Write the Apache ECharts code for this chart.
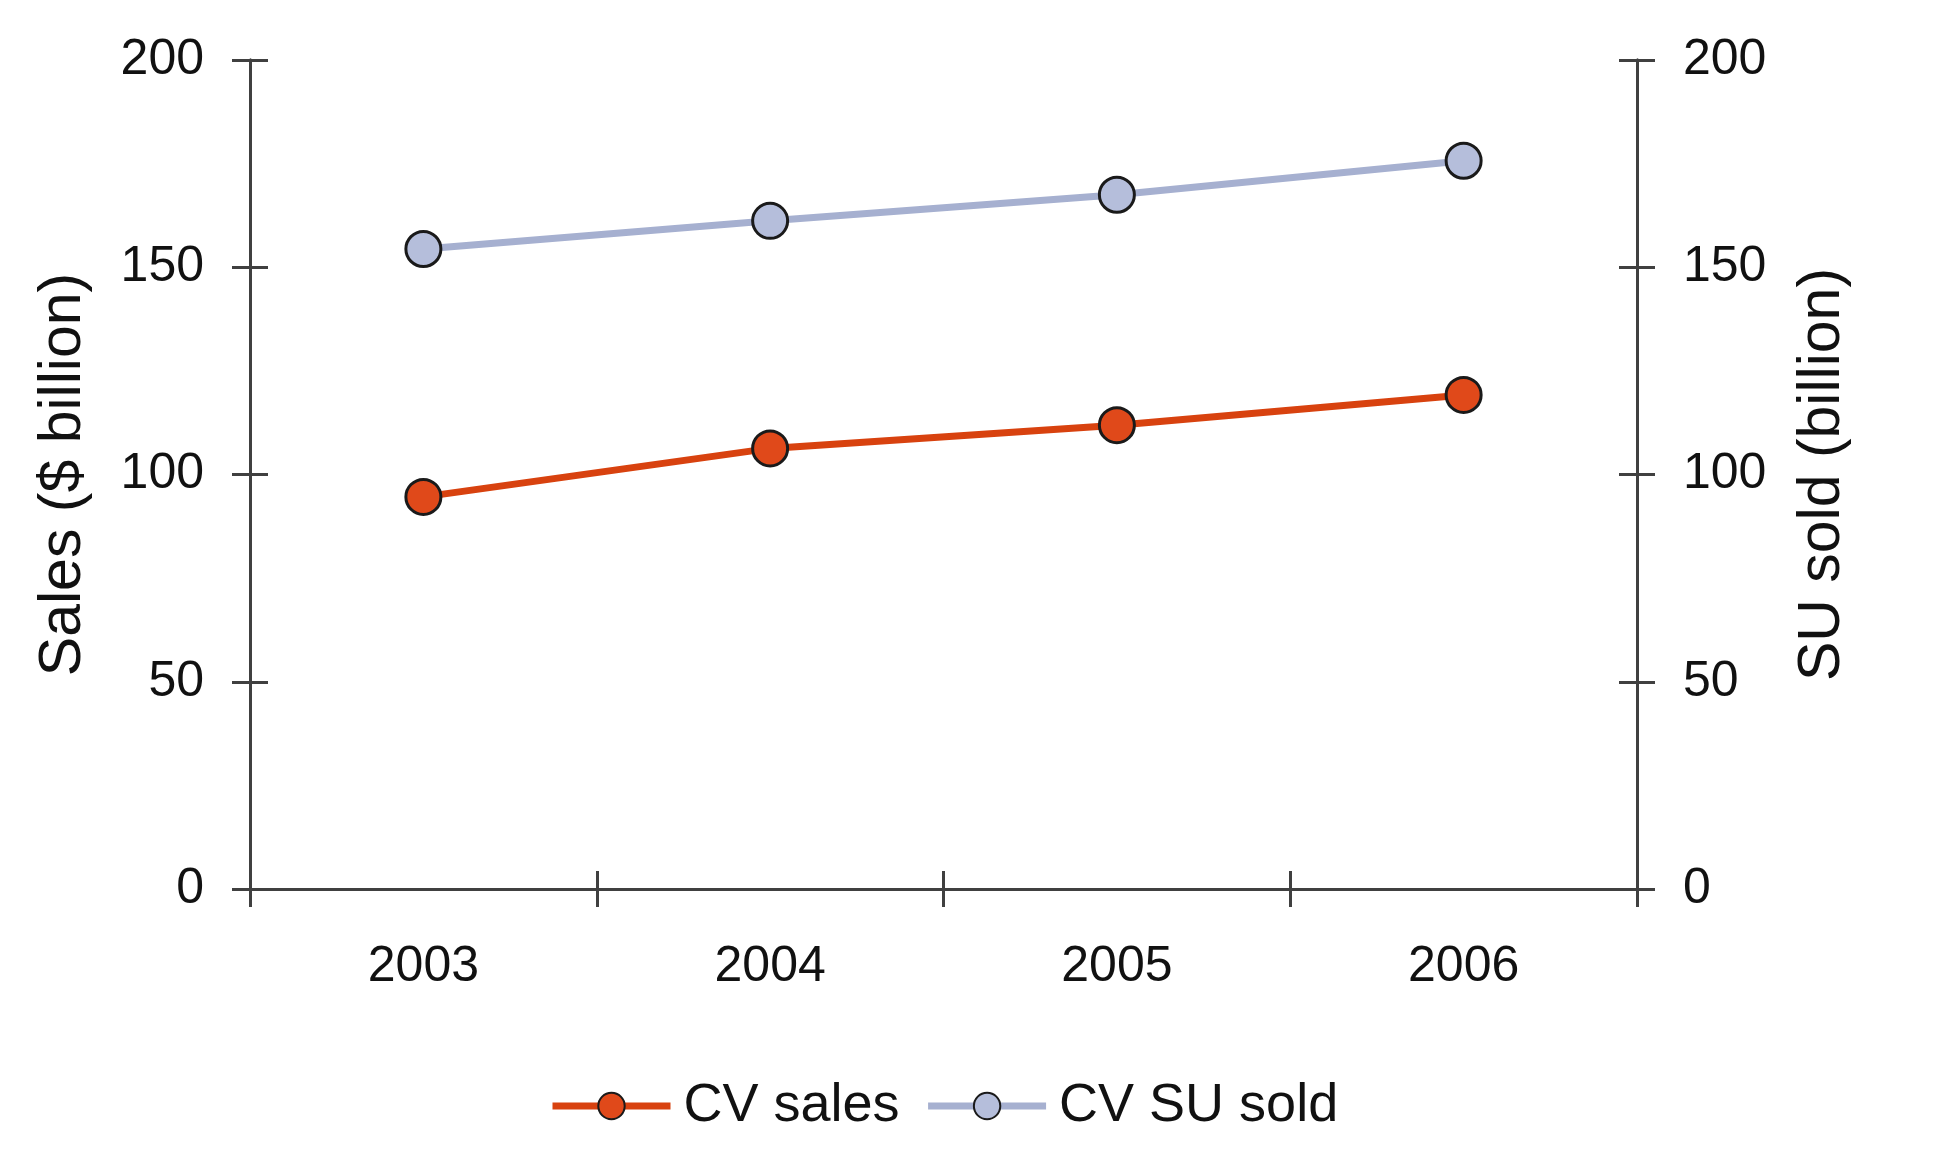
<!DOCTYPE html>
<html>
<head>
<meta charset="utf-8">
<script src="https://cdn.jsdelivr.net/npm/echarts@6/dist/echarts.min.js"></script>
<style>
html,body{margin:0;padding:0;background:#fff;}
#chart{width:1958px;height:1159px;}
</style>
</head>
<body>
<div id="chart"></div>
<script>
var categories = ['2003', '2004', '2005', '2006'];
var cvSales = [94.6, 106.3, 111.9, 119.2];
var cvSuSold = [154.4, 161.2, 167.5, 175.7];
var seriesNames = ['CV sales', 'CV SU sold'];
var leftAxisName = 'Sales ($ billion)';
var rightAxisName = 'SU sold (billion)';
var yMin = 0, yMax = 200, yInterval = 50;

var FONT = 'Liberation Sans, Arial, sans-serif';
var AX = '#404040';
var chart = echarts.init(document.getElementById('chart'), null, {renderer: 'canvas'});

function yAxisBase(pos, ticksInside, showLabel, name) {
  return {
    type: 'value', position: pos, min: yMin, max: yMax, interval: yInterval,
    name: name || '', nameLocation: 'middle', nameGap: pos === 'left' ? 157 : 156,
    nameRotate: 90,
    nameTextStyle: {fontFamily: FONT, fontSize: 59, color: '#111'},
    axisLine: {show: true, lineStyle: {color: AX, width: 3}},
    axisTick: {show: true, inside: ticksInside, length: 18, lineStyle: {color: AX, width: 3}},
    axisLabel: {show: showLabel, margin: 46, fontFamily: FONT, fontSize: 50, color: '#111'},
    splitLine: {show: false}
  };
}

var option = {
  animation: false,
  backgroundColor: '#fff',
  grid: {left: 250, right: 321, top: 60, bottom: 270, containLabel: false},
  legend: {
    left: 544, top: 1074,
    itemWidth: 118, itemHeight: 33, itemGap: 25,
    lineStyle: {width: 7},
    textStyle: {fontFamily: FONT, fontSize: 54, color: '#111', padding: [0, 0, 0, 8]},
    data: seriesNames
  },
  xAxis: [{
    type: 'category', position: 'bottom', data: categories, boundaryGap: true,
    axisLine: {show: true, lineStyle: {color: AX, width: 3}},
    axisTick: {show: true, inside: false, length: 18, alignWithLabel: false, lineStyle: {color: AX, width: 3}},
    axisLabel: {margin: 53, fontFamily: FONT, fontSize: 50, color: '#111'},
    splitLine: {show: false}
  }, {
    type: 'category', position: 'bottom', data: categories, boundaryGap: true,
    axisLine: {show: false},
    axisTick: {show: true, inside: true, length: 18, lineStyle: {color: AX, width: 3}},
    axisLabel: {show: false},
    splitLine: {show: false}
  }],
  yAxis: [
    yAxisBase('left', false, true, leftAxisName),
    yAxisBase('right', false, true, rightAxisName),
    yAxisBase('left', true, false, ''),
    yAxisBase('right', true, false, '')
  ],
  series: [{
    name: seriesNames[0], type: 'line', xAxisIndex: 0, yAxisIndex: 0,
    data: cvSales,
    symbol: 'circle', symbolSize: 35,
    lineStyle: {color: '#D8420F', width: 7},
    itemStyle: {color: '#E0491A', borderColor: '#1a1a1a', borderWidth: 3},
    z: 3
  }, {
    name: seriesNames[1], type: 'line', xAxisIndex: 0, yAxisIndex: 1,
    data: cvSuSold,
    symbol: 'circle', symbolSize: 35,
    lineStyle: {color: '#A6B0D0', width: 7},
    itemStyle: {color: '#B5BEDB', borderColor: '#1a1a1a', borderWidth: 3},
    z: 3
  }]
};
chart.setOption(option);
</script>
</body>
</html>
